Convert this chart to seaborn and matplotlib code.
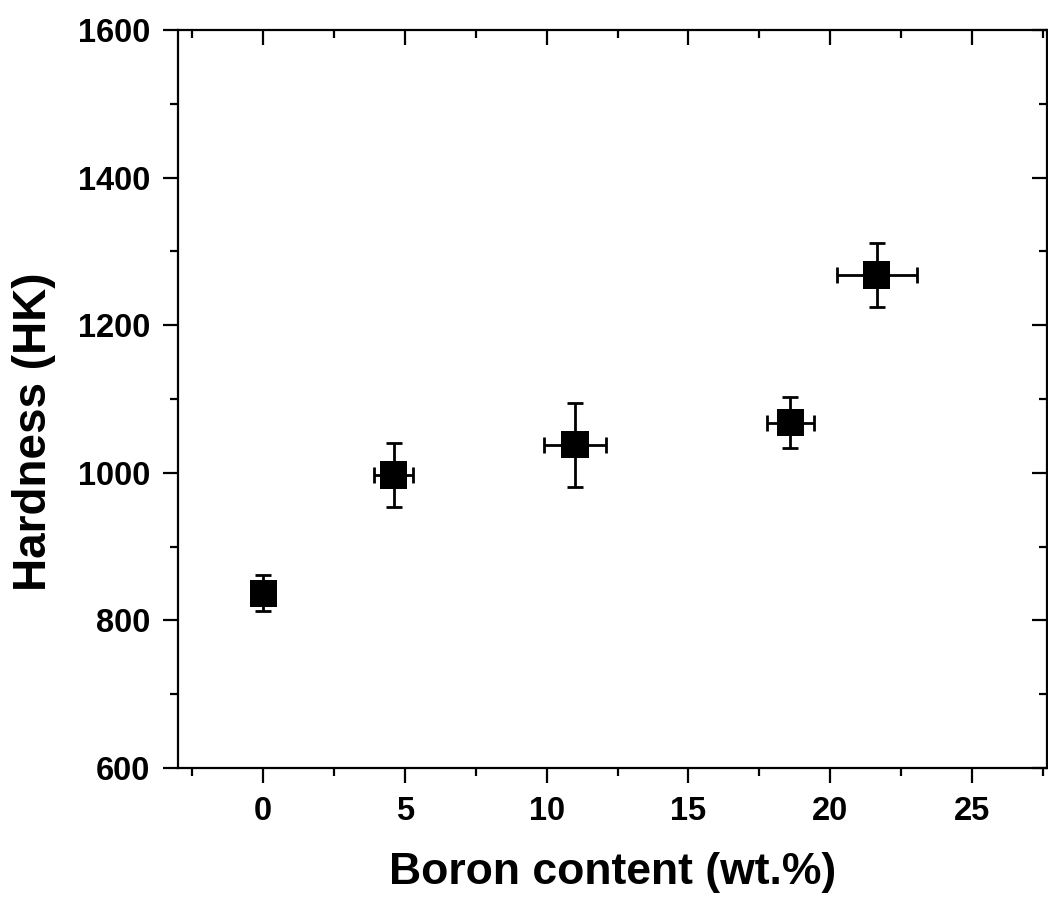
import matplotlib
matplotlib.use("Agg")
import matplotlib.pyplot as plt
import seaborn as sns
import numpy as np
import pandas as pd
from matplotlib.ticker import MultipleLocator, NullFormatter

# Knoop hardness versus boron content
boron = [0.0, 4.6, 11.0, 18.6, 21.65]
boron_err = [0.0, 0.70, 1.11, 0.83, 1.41]
hardness = [837, 997, 1038, 1068, 1268]
hardness_err = [24, 43, 57, 35, 43]

x_ticks = [0, 5, 10, 15, 20, 25]
y_ticks = [600, 800, 1000, 1200, 1400, 1600]

sns.set_theme(style="white")
plt.rcParams["font.family"] = ["Liberation Sans", "DejaVu Sans"]
plt.rcParams["font.weight"] = "bold"
for key in ["text.color", "axes.labelcolor", "xtick.color", "ytick.color"]:
    plt.rcParams[key] = "black"

fig = plt.figure(figsize=(10.48, 8.99), dpi=100)
ax = fig.add_axes([0.170, 0.1457, 0.829, 0.8209])

df = pd.DataFrame({"boron": boron, "hardness": hardness})

ax.errorbar(boron, hardness, xerr=boron_err, yerr=hardness_err, fmt="none",
            ecolor="black", elinewidth=2.0, capsize=5.5, capthick=2.0, zorder=2)
sns.scatterplot(data=df, x="boron", y="hardness", marker="s", s=19.5 ** 2,
                color="black", edgecolor="none", ax=ax, zorder=3)

ax.set_xlim(-3, 27.65)
ax.set_ylim(600, 1600)
ax.set_xticks(x_ticks)
ax.set_yticks(y_ticks)
ax.xaxis.set_minor_locator(MultipleLocator(2.5))
ax.yaxis.set_minor_locator(MultipleLocator(100))

for side in ["left", "right", "top", "bottom"]:
    ax.spines[side].set_visible(True)
    ax.spines[side].set_color("black")
    ax.spines[side].set_linewidth(1.6)

ax.tick_params(which="major", direction="out", length=11, width=1.6,
               color="black", labelsize=23.5, pad=9, bottom=True, left=True)
ax.tick_params(which="minor", direction="out", length=6, width=1.6,
               color="black", bottom=True, left=True)
for lab in ax.get_xticklabels() + ax.get_yticklabels():
    lab.set_fontweight("bold")

# mirrored ticks pointing inward on the top and right edges
top = ax.secondary_xaxis("top")
top.set_xticks(x_ticks)
top.xaxis.set_minor_locator(MultipleLocator(2.5))
top.xaxis.set_major_formatter(NullFormatter())
top.tick_params(which="major", direction="in", length=11, width=1.6, color="black")
top.tick_params(which="minor", direction="in", length=6, width=1.6, color="black")
top.spines["top"].set_visible(False)

right = ax.secondary_yaxis("right")
right.set_yticks(y_ticks)
right.yaxis.set_minor_locator(MultipleLocator(100))
right.yaxis.set_major_formatter(NullFormatter())
right.tick_params(which="major", direction="in", length=11, width=1.6, color="black")
right.tick_params(which="minor", direction="in", length=6, width=1.6, color="black")
right.spines["right"].set_visible(False)

ax.set_xlabel("Boron content (wt.%)", fontsize=32, fontweight="bold", labelpad=18)
ax.set_ylabel("Hardness (HK)", fontsize=33, fontweight="bold", labelpad=16)
ax.yaxis.label.set_y(0.455)

fig.savefig("out.png", dpi=100, facecolor="white")
